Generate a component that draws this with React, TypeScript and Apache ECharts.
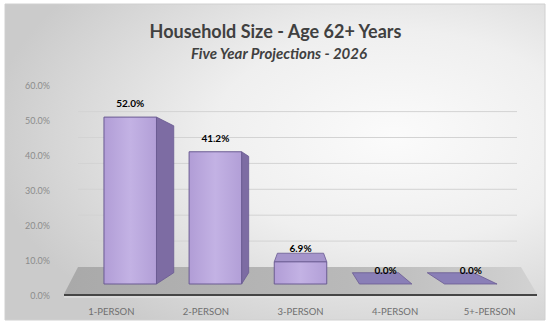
import React, { useEffect, useRef } from 'react';
import * as echarts from 'echarts';

const titleText = 'Household Size - Age 62+ Years';
const subtitleText = 'Five Year Projections - 2026';
const categories = ['1-PERSON', '2-PERSON', '3-PERSON', '4-PERSON', '5+-PERSON'];
const values = [52.0, 41.2, 6.9, 0.0, 0.0];
const gridTicks = [10, 20, 30, 40, 50, 60];

const FONT = 'Lato, "Open Sans", sans-serif';

export default function App() {
  const ref = useRef<HTMLDivElement>(null);
  useEffect(() => {
    const chart = echarts.init(ref.current!, null, { renderer: 'svg' });
    const n = categories.length;

    const geom = (api: any) => {
      const band = api.size([1, 0])[0];
      const first = api.coord([0, 0]);
      const last = api.coord([n - 1, 0]);
      const left = first[0] - band / 2;
      const right = last[0] + band / 2;
      const mid = (first[0] + last[0]) / 2;
      return { band, y0: first[1], left, right, mid };
    };

    const option: any = {
      animation: false,
      backgroundColor: '#ffffff',
      title: [
        {
          text: titleText,
          left: 'center',
          top: 17,
          textStyle: { fontFamily: FONT, fontSize: 18, fontWeight: 'bold', color: '#404040' },
        },
        {
          text: subtitleText,
          left: 186,
          top: 40,
          textStyle: { fontFamily: FONT, fontSize: 15, fontStyle: 'italic', fontWeight: 'bold', color: '#404040' },
        },
      ],
      graphic: [
        {
          type: 'rect',
          z: -100,
          silent: true,
          shape: { x: 5, y: 4, width: 540, height: 316 },
          style: {
            fill: new echarts.graphic.RadialGradient(0.72, 0.42, 0.75, [
              { offset: 0, color: '#fbfbfb' },
              { offset: 0.45, color: '#efefef' },
              { offset: 1, color: '#cbcbcb' },
            ]),
            stroke: '#d0d0d0',
            lineWidth: 1,
          },
        },
      ],
      grid: { left: 64, right: 14, top: 85, bottom: 30, containLabel: false },
      xAxis: {
        type: 'category',
        data: categories,
        axisLine: { show: false },
        axisTick: { show: false },
        axisLabel: { color: '#6f6f6f', fontSize: 9.5, fontFamily: FONT, margin: 11 },
      },
      yAxis: {
        type: 'value',
        min: 0,
        max: 60,
        interval: 10,
        axisLine: { show: false },
        axisTick: { show: false },
        splitLine: { show: false },
        axisLabel: {
          color: '#8c8c8c',
          fontSize: 9,
          fontFamily: FONT,
          margin: 14,
          formatter: (v: number) => v.toFixed(1) + '%',
        },
      },
      series: [
        {
          type: 'custom',
          name: 'wall',
          silent: true,
          data: gridTicks.map((t) => [0, t]),
          renderItem: (params: any, api: any) => {
            const g = geom(api);
            const v = api.value(1);
            const yAx = api.coord([0, v])[1];
            const yBackBase = g.y0 - 28;
            const y = yBackBase - (g.y0 - yAx) * 0.74;
            return {
              type: 'line',
              shape: { x1: g.left + 14, y1: y, x2: g.right - 20, y2: y },
              style: { stroke: '#d3d3d3', lineWidth: 1 },
            };
          },
        },
        {
          type: 'custom',
          name: 'floor',
          silent: true,
          data: [[0, 0]],
          renderItem: (params: any, api: any) => {
            const g = geom(api);
            const y = g.y0;
            return {
              type: 'group',
              children: [
                {
                  type: 'polygon',
                  shape: {
                    points: [
                      [g.left, y - 1],
                      [g.right, y - 1],
                      [g.right - 16, y - 28],
                      [g.left + 14, y - 28],
                    ],
                  },
                  style: {
                    fill: new echarts.graphic.LinearGradient(0, 0, 1, 0, [
                      { offset: 0, color: '#a9a9a9' },
                      { offset: 0.6, color: '#b9b9b9' },
                      { offset: 1, color: '#d2d2d2' },
                    ]),
                  },
                },
                {
                  type: 'line',
                  shape: { x1: g.left, y1: y, x2: g.right, y2: y },
                  style: { stroke: '#454545', lineWidth: 2 },
                },
                {
                  type: 'line',
                  shape: { x1: g.left, y1: y + 2, x2: g.right, y2: y + 2 },
                  style: { stroke: '#e6e6e6', lineWidth: 1 },
                },
              ],
            };
          },
        },
        {
          type: 'custom',
          name: 'Household Size',
          data: values.map((v, i) => [i, v]),
          renderItem: (params: any, api: any) => {
            const g = geom(api);
            const i = api.value(0);
            const v = api.value(1);
            const base = api.coord([i, 0]);
            const topAx = api.coord([i, v]);
            const vp = [g.mid, g.y0 - 105];
            const k = 0.12;
            const cx = base[0] + (g.mid - base[0]) * 0.1;
            const w = g.band * 0.555;
            const yb = g.y0 - 11;
            const yt = yb - (g.y0 - topAx[1]) * 0.917;
            const xl = cx - w / 2;
            const xr = cx + w / 2;
            const back = (x: number, y: number) => [x + (vp[0] - x) * k, y + (vp[1] - y) * k];
            const children: any[] = [];
            const stroke = '#6a5b92';
            if (xr < vp[0] && yb - yt > 0.5) {
              children.push({
                type: 'polygon',
                shape: { points: [[xr, yt], back(xr, yt), back(xr, yb), [xr, yb]] },
                style: { fill: '#7d6ca3', stroke, lineWidth: 0.8 },
              });
            }
            if (xl > vp[0] && yb - yt > 0.5) {
              children.push({
                type: 'polygon',
                shape: { points: [[xl, yt], back(xl, yt), back(xl, yb), [xl, yb]] },
                style: { fill: '#7d6ca3', stroke, lineWidth: 0.8 },
              });
            }
            if (yt > vp[1]) {
              children.push({
                type: 'polygon',
                shape: { points: [[xl, yt], [xr, yt], back(xr, yt), back(xl, yt)] },
                style: { fill: yb - yt > 0.5 ? '#a595cb' : '#8a7fb7', stroke, lineWidth: 0.8 },
              });
            }
            if (yb - yt > 0.5) {
              children.push({
                type: 'rect',
                shape: { x: xl, y: yt, width: w, height: yb - yt },
                style: {
                  fill: new echarts.graphic.LinearGradient(0, 0, 1, 0, [
                    { offset: 0, color: '#b19dd6' },
                    { offset: 0.5, color: '#c3b2e4' },
                    { offset: 1, color: '#b29fd7' },
                  ]),
                  stroke,
                  lineWidth: 1,
                },
              });
            }
            children.push({
              type: 'text',
              x: cx,
              y: yt - 14,
              style: {
                text: v.toFixed(1) + '%',
                fill: '#000000',
                font: 'bold 10px ' + FONT,
                textAlign: 'center',
                textVerticalAlign: 'middle',
              },
            });
            return { type: 'group', children };
          },
        },
      ],
    };
    chart.setOption(option);
    return () => chart.dispose();
  }, []);
  return <div ref={ref} style={{ position: 'fixed', left: 0, top: 0, width: 551, height: 325 }} />;
}
